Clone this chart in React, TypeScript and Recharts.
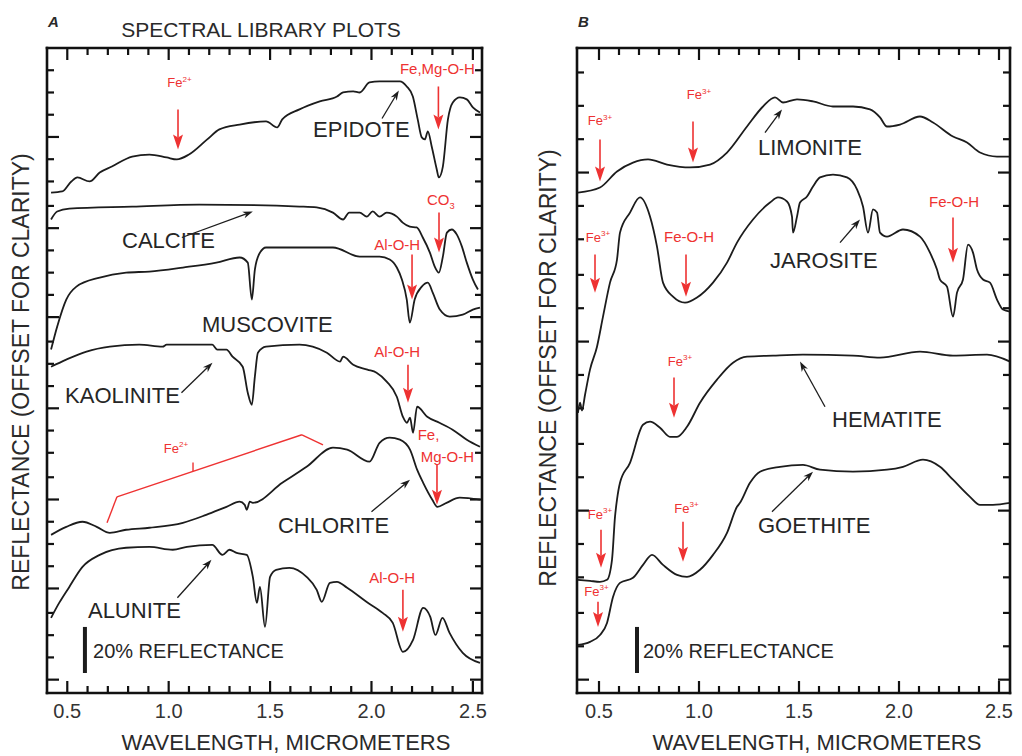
import React from 'react';
import { LineChart, Line, XAxis, YAxis, ReferenceLine, ReferenceDot } from 'recharts';

const FONT = '"Liberation Sans", Arial, Helvetica, sans-serif';
const INK = '#1c1c1c';
const RED = '#ee3232';
const FRAME = '#111';

type Pt = [number, number];

// wavelength (micrometers), reflectance in % (offset for clarity)
const epidote: Pt[] = [[0.42,225],[0.475,225.5],[0.52,230],[0.55,231.8],[0.61,230],[0.66,234],[0.72,236.7],[0.82,241.2],[0.905,242.1],[0.99,240.8],[1.04,239.9],[1.1,242.1],[1.19,248.9],[1.25,253.4],[1.35,255.6],[1.48,257],[1.535,254.3],[1.56,257.9],[1.645,262.4],[1.745,266],[1.83,268.2],[1.86,270],[1.91,270.5],[1.942,270],[1.99,274.5],[2.04,275],[2.14,275],[2.174,272.7],[2.204,268.2],[2.228,257.9],[2.248,249.8],[2.263,248.9],[2.278,252.5],[2.297,245.7],[2.322,235.4],[2.332,231.8],[2.352,236.7],[2.377,257.9],[2.401,265.5],[2.436,267.8],[2.47,266.9],[2.5,263.3],[2.535,261]];
const calcite: Pt[] = [[0.42,212.9],[0.45,216.5],[0.51,217.8],[0.82,218.7],[1.15,219.6],[1.645,218.7],[1.73,218.3],[1.81,216],[1.86,212.9],[1.89,216],[1.942,216],[1.977,214.2],[2.006,216.5],[2.04,214.2],[2.075,216],[2.125,214.2],[2.154,211.5],[2.189,209.7],[2.223,209.3],[2.253,204.8],[2.288,198],[2.312,191.7],[2.332,189],[2.352,196.2],[2.372,207],[2.396,208.4],[2.421,206.1],[2.446,200.7],[2.47,193.5],[2.5,185.9],[2.525,181.4]];
const muscovite: Pt[] = [[0.42,154.4],[0.45,164.7],[0.495,176.9],[0.545,182.7],[0.66,186.8],[0.79,189],[0.905,189.5],[1.07,191.3],[1.235,193.5],[1.35,195.8],[1.39,193.5],[1.41,176.9],[1.425,190.4],[1.45,198],[1.48,200.3],[1.81,200.3],[1.942,196.2],[2.04,196.2],[2.09,194.9],[2.125,191.3],[2.15,185.9],[2.174,176.9],[2.189,166.5],[2.213,176.9],[2.248,182.7],[2.278,184.5],[2.302,180],[2.337,172.4],[2.386,169.2],[2.45,170.1],[2.5,172.4],[2.535,173.3]];
const kaolinite: Pt[] = [[0.42,146.7],[0.495,149.9],[0.595,153.5],[0.71,155.7],[0.855,156.6],[0.97,155.7],[0.99,156.6],[1.215,156.6],[1.24,154.4],[1.285,154.4],[1.315,151.2],[1.365,146.7],[1.39,135],[1.41,129.6],[1.425,142.2],[1.44,153],[1.48,155.7],[1.645,156.6],[1.71,155.7],[1.78,153],[1.845,149],[1.86,151.2],[1.91,147.6],[1.98,145.4],[2.025,144],[2.075,140],[2.125,133.2],[2.155,124.2],[2.175,121.5],[2.19,123.8],[2.205,117],[2.225,128.7],[2.275,124.2],[2.335,121.5],[2.4,118.4],[2.47,113.9],[2.535,110.7]];
const chlorite: Pt[] = [[0.42,71.1],[0.495,74.7],[0.575,77],[0.645,74.7],[0.71,72],[0.79,73.4],[0.905,74.3],[1.07,76.5],[1.185,80.1],[1.285,83.7],[1.35,86],[1.375,84.6],[1.385,82.4],[1.4,86],[1.415,85.5],[1.56,94.5],[1.68,101.7],[1.81,110.3],[1.88,109.4],[1.99,104],[2.04,112.5],[2.09,114.8],[2.14,113.9],[2.19,109.4],[2.225,100.4],[2.255,94.5],[2.3,86.9],[2.325,83.7],[2.37,85.5],[2.435,87.8],[2.535,86.9]];
const alunite: Pt[] = [[0.42,33.8],[0.46,40.5],[0.51,47.7],[0.575,56.7],[0.66,62.1],[0.79,65.3],[0.905,65.7],[1.02,64.4],[1.09,65.7],[1.215,66.6],[1.265,62.1],[1.3,64.4],[1.335,63],[1.385,62.1],[1.415,52.2],[1.435,40.5],[1.45,47.7],[1.475,29.7],[1.5,52.2],[1.53,55.4],[1.595,56.3],[1.68,52.2],[1.73,46.4],[1.755,41],[1.795,49.5],[1.83,50],[1.88,47.3],[1.975,41],[2.055,36],[2.105,31.5],[2.155,18.5],[2.205,23.9],[2.255,38.3],[2.29,34.2],[2.315,26.1],[2.35,33.8],[2.385,27],[2.45,18],[2.535,13.5]];

const limonite: Pt[] = [[0.395,225],[0.505,227.3],[0.59,234.5],[0.67,238.5],[0.745,239.9],[0.84,237.6],[0.955,236.3],[1.055,237.6],[1.14,243],[1.24,254.7],[1.32,263.7],[1.38,267.8],[1.42,265.5],[1.49,266.9],[1.57,266],[1.67,263.7],[1.77,263.7],[1.855,262.4],[1.905,258.8],[1.94,254.7],[2.005,255.6],[2.105,259.2],[2.17,256.5],[2.27,250.2],[2.34,247.5],[2.405,243],[2.49,241.2],[2.555,241.2]];
const jarosite: Pt[] = [[0.395,126],[0.405,130.5],[0.415,127],[0.43,134],[0.455,145.4],[0.49,155.7],[0.52,169.2],[0.555,184.5],[0.59,194.9],[0.605,207],[0.655,216],[0.705,222.8],[0.755,214.2],[0.79,200.7],[0.82,184.5],[0.87,178.2],[0.93,175.5],[0.99,177.8],[1.07,184.5],[1.14,193.5],[1.19,202.5],[1.27,212.9],[1.355,220.5],[1.395,222.8],[1.44,221],[1.465,214.2],[1.47,207],[1.49,214.2],[1.505,220.5],[1.54,223.2],[1.57,227.7],[1.605,231.8],[1.67,233.1],[1.74,231.8],[1.79,226.4],[1.82,218.7],[1.845,207],[1.87,217.4],[1.89,216],[1.905,207],[1.94,205.2],[2.02,208.4],[2.105,205.2],[2.155,198],[2.19,190.4],[2.205,185.9],[2.24,182.7],[2.27,169.2],[2.29,180],[2.32,185.9],[2.345,201.6],[2.37,198],[2.39,190.4],[2.42,185.9],[2.455,184.5],[2.49,176.9],[2.52,172.4],[2.555,171.5]];
const hematite: Pt[] = [[0.395,50.9],[0.455,50.4],[0.505,50],[0.54,50.9],[0.565,59.9],[0.58,79.2],[0.59,86.9],[0.605,94.5],[0.655,103.5],[0.72,120.6],[0.755,122],[0.805,119.3],[0.855,115.2],[0.89,115.2],[0.94,119.7],[1.005,130.5],[1.09,140.9],[1.17,148.5],[1.24,151.2],[1.37,151.7],[1.52,152.1],[1.77,151.7],[1.905,150.8],[2.105,153.5],[2.27,151.7],[2.44,152.1],[2.555,149]];
const goethite: Pt[] = [[0.395,21.6],[0.455,23],[0.505,26.1],[0.54,31.5],[0.57,43.2],[0.605,49.5],[0.67,51.8],[0.72,57.6],[0.765,62.1],[0.82,57.6],[0.89,53.1],[0.94,52.2],[1.005,55.4],[1.07,62.1],[1.14,72],[1.19,83.7],[1.205,85.5],[1.255,94.5],[1.305,99.5],[1.405,101.7],[1.52,102.6],[1.605,100.4],[1.77,99.5],[1.94,100.4],[2.02,101.7],[2.12,104.9],[2.205,101.7],[2.27,95.9],[2.355,88.2],[2.405,84.6],[2.47,84.6],[2.555,85.5]];

const xTicks = [0.5,0.6,0.7,0.8,0.9,1.0,1.1,1.2,1.3,1.4,1.5,1.6,1.7,1.8,1.9,2.0,2.1,2.2,2.3,2.4,2.5];
const xMajor = [0.5, 1.0, 1.5, 2.0, 2.5];
const yTicksA = [6,16,26,36,47,57,67,77,87,97,108,118,128,138,148,158,169,179,189,199,209,219,230,240,250,260,270,280];
const yMajorA = [6,47,87,128,169,209,250];
const yTicksB = [6,21,36,52,67,82,97,112,128,143,158,173,188,204,219,234,249,264,279];
const yMajorB = [6,82,158,234];
const Y_DOMAIN: [number, number] = [0, 290];

type Note = { w: number; r: number; text: string; kind: 'name' | 'scale' | 'red' | 'ion' | 'redStart'; sup?: string; sub?: string };
type Arrow = { w1: number; r1: number; w2: number; r2: number; kind: 'red' | 'black' };
type Seg = { w1: number; r1: number; w2: number; r2: number };

const notesA: Note[] = [
  { w: 1.712, r: 250.2, text: 'EPIDOTE', kind: 'name' },
  { w: 0.77, r: 200.3, text: 'CALCITE', kind: 'name' },
  { w: 1.164, r: 162.5, text: 'MUSCOVITE', kind: 'name' },
  { w: 0.489, r: 130.5, text: 'KAOLINITE', kind: 'name' },
  { w: 1.539, r: 72, text: 'CHLORITE', kind: 'name' },
  { w: 0.602, r: 33.8, text: 'ALUNITE', kind: 'name' },
  { w: 0.627, r: 15.8, text: '20% REFLECTANCE', kind: 'scale' },
  { w: 1.053, r: 272.3, text: 'Fe', sup: '2+', kind: 'ion' },
  { w: 2.325, r: 278.1, text: 'Fe,Mg-O-H', kind: 'red' },
  { w: 2.342, r: 219.6, text: 'CO', sub: '3', kind: 'red' },
  { w: 2.127, r: 199.4, text: 'Al-O-H', kind: 'red' },
  { w: 2.127, r: 151.2, text: 'Al-O-H', kind: 'red' },
  { w: 2.228, r: 113.9, text: 'Fe,', kind: 'redStart' },
  { w: 2.374, r: 104, text: 'Mg-O-H', kind: 'red' },
  { w: 1.036, r: 108, text: 'Fe', sup: '2+', kind: 'ion' },
  { w: 2.102, r: 49.5, text: 'Al-O-H', kind: 'red' },
];
const arrowsA: Arrow[] = [
  { w1: 2.052, r1: 258.3, w2: 2.135, r2: 270.9, kind: 'black' },
  { w1: 1.065, r1: 204.8, w2: 1.415, r2: 216.5, kind: 'black' },
  { w1: 1.063, r1: 135, w2: 1.216, r2: 148.5, kind: 'black' },
  { w1: 2.0, r1: 81.5, w2: 2.19, r2: 95.9, kind: 'black' },
  { w1: 1.043, r1: 42.8, w2: 1.211, r2: 59.9, kind: 'black' },
  { w1: 1.046, r1: 262.4, w2: 1.046, r2: 244.4, kind: 'red' },
  { w1: 2.33, r1: 272.7, w2: 2.33, r2: 253.4, kind: 'red' },
  { w1: 2.333, r1: 216, w2: 2.333, r2: 198, kind: 'red' },
  { w1: 2.2, r1: 197.1, w2: 2.2, r2: 176.9, kind: 'red' },
  { w1: 2.18, r1: 147.6, w2: 2.18, r2: 130.5, kind: 'red' },
  { w1: 2.323, r1: 102.6, w2: 2.323, r2: 84.6, kind: 'red' },
  { w1: 2.155, r1: 46.4, w2: 2.155, r2: 27.5, kind: 'red' },
];
const bracketA: Seg[] = [
  { w1: 0.696, r1: 76.5, w2: 0.745, r2: 88.2 },
  { w1: 0.745, r1: 88.2, w2: 1.657, r2: 116.1 },
  { w1: 1.657, r1: 116.1, w2: 1.761, r2: 111.6 },
  { w1: 1.12, r1: 99.8, w2: 1.12, r2: 103.6 },
];
const scaleA: Seg = { w1: 0.587, r1: 9, w2: 0.587, r2: 29.7 };

const notesB: Note[] = [
  { w: 1.295, r: 242.1, text: 'LIMONITE', kind: 'name' },
  { w: 1.355, r: 191.3, text: 'JAROSITE', kind: 'name' },
  { w: 1.665, r: 119.7, text: 'HEMATITE', kind: 'name' },
  { w: 1.295, r: 72, text: 'GOETHITE', kind: 'name' },
  { w: 0.72, r: 15.8, text: '20% REFLECTANCE', kind: 'scale' },
  { w: 0.505, r: 255.2, text: 'Fe', sup: '3+', kind: 'ion' },
  { w: 1.0, r: 266.9, text: 'Fe', sup: '3+', kind: 'ion' },
  { w: 0.495, r: 203, text: 'Fe', sup: '3+', kind: 'ion' },
  { w: 0.95, r: 203, text: 'Fe-O-H', kind: 'red' },
  { w: 2.275, r: 218.3, text: 'Fe-O-H', kind: 'red' },
  { w: 0.905, r: 147.2, text: 'Fe', sup: '3+', kind: 'ion' },
  { w: 0.505, r: 78.3, text: 'Fe', sup: '3+', kind: 'ion' },
  { w: 0.9375, r: 81, text: 'Fe', sup: '3+', kind: 'ion' },
  { w: 0.4875, r: 43.7, text: 'Fe', sup: '3+', kind: 'ion' },
];
const arrowsB: Arrow[] = [
  { w1: 1.33, r1: 252, w2: 1.415, r2: 262.4, kind: 'black' },
  { w1: 1.705, r1: 202.5, w2: 1.805, r2: 212.9, kind: 'black' },
  { w1: 1.63, r1: 128.7, w2: 1.505, r2: 149, kind: 'black' },
  { w1: 1.365, r1: 81.5, w2: 1.57, r2: 99.5, kind: 'black' },
  { w1: 0.505, r1: 248.9, w2: 0.505, r2: 230, kind: 'red' },
  { w1: 0.97, r1: 257, w2: 0.97, r2: 238.5, kind: 'red' },
  { w1: 0.48, r1: 197.1, w2: 0.48, r2: 180, kind: 'red' },
  { w1: 0.935, r1: 197.1, w2: 0.935, r2: 178.2, kind: 'red' },
  { w1: 2.27, r1: 213.8, w2: 2.27, r2: 193.5, kind: 'red' },
  { w1: 0.875, r1: 141.8, w2: 0.875, r2: 123.8, kind: 'red' },
  { w1: 0.51, r1: 73.4, w2: 0.51, r2: 56.3, kind: 'red' },
  { w1: 0.92, r1: 77, w2: 0.92, r2: 59, kind: 'red' },
  { w1: 0.495, r1: 41, w2: 0.495, r2: 29.7, kind: 'red' },
];
const scaleB: Seg = { w1: 0.69, r1: 9, w2: 0.69, r2: 29.7 };

const toRows = (pts: Pt[]) => pts.map(([w, r]) => ({ w, r }));
const near = (list: number[], v: number) => list.some((m) => Math.abs(m - v) < 1e-6);

const xTickLabel = (p: any) => {
  const v = p.payload.value;
  if (!near(xMajor, v)) return <g />;
  return (
    <text x={p.x} y={p.y + 25} textAnchor="middle" fontSize={20} fontFamily={FONT} fill="#333">
      {v.toFixed(1)}
    </text>
  );
};

// a tick mark hanging inward from one end of a reference line that spans the plot
const tickAt = (end: 'start' | 'end', major: boolean) => (p: any) => {
  const len = major ? 12 : 7;
  const x1 = Number(p.x1), x2 = Number(p.x2), y1 = Number(p.y1), y2 = Number(p.y2);
  const vertical = Math.abs(x1 - x2) < 0.5;
  if (vertical) {
    const yEdge = end === 'start' ? Math.min(y1, y2) : Math.max(y1, y2);
    const dir = end === 'start' ? 1 : -1;
    return <path d={`M${x1},${yEdge}V${yEdge + dir * len}`} stroke={FRAME} strokeWidth={2.2} fill="none" />;
  }
  const xEdge = end === 'start' ? Math.min(x1, x2) : Math.max(x1, x2);
  const dir = end === 'start' ? 1 : -1;
  return <path d={`M${xEdge},${y1}H${xEdge + dir * len}`} stroke={FRAME} strokeWidth={2.2} fill="none" />;
};

const edge = (p: any) => (
  <path d={`M${Number(p.x1)},${Number(p.y1)}L${Number(p.x2)},${Number(p.y2)}`} stroke={FRAME} strokeWidth={2.6} strokeLinecap="square" fill="none" />
);

const noteShape = (n: Note) => (p: any) => {
  const isName = n.kind === 'name' || n.kind === 'scale';
  const size = n.kind === 'name' ? 22 : n.kind === 'scale' ? 20 : n.kind === 'ion' ? 13 : 15;
  const anchor = isName || n.kind === 'redStart' ? 'start' : 'middle';
  return (
    <text x={p.cx} y={p.cy} textAnchor={anchor} fontSize={size} fontFamily={FONT} fill={isName ? '#262626' : RED}>
      {n.text}
      {n.sup && <tspan dy={-size * 0.42} fontSize={size * 0.62}>{n.sup}</tspan>}
      {n.sub && <tspan dy={size * 0.28} fontSize={size * 0.62}>{n.sub}</tspan>}
    </text>
  );
};

const arrowShape = (kind: 'red' | 'black') => (p: any) => {
  const x1 = Number(p.x1), y1 = Number(p.y1), x2 = Number(p.x2), y2 = Number(p.y2);
  const red = kind === 'red';
  const hl = red ? 15 : 10;
  const hw = red ? 10 : 7;
  const color = red ? RED : INK;
  const dx = x2 - x1;
  const dy = y2 - y1;
  const len = Math.hypot(dx, dy) || 1;
  const ux = dx / len;
  const uy = dy / len;
  const bx = x2 - ux * hl;
  const by = y2 - uy * hl;
  const nx = (-uy * hw) / 2;
  const ny = (ux * hw) / 2;
  return (
    <g>
      <line x1={x1} y1={y1} x2={bx + ux * 3} y2={by + uy * 3} stroke={color} strokeWidth={red ? 1.6 : 1.3} />
      <polygon points={`${x2},${y2} ${bx + nx},${by + ny} ${bx + ux * 3},${by + uy * 3} ${bx - nx},${by - ny}`} fill={color} />
    </g>
  );
};

type PanelProps = {
  series: Pt[][];
  notes: Note[];
  arrows: Arrow[];
  bracket: Seg[];
  scale: Seg;
  xDomain: [number, number];
  yTicks: number[];
  yMajor: number[];
  width: number;
  axisWidth: number;
  rightMargin: number;
};

function Panel(props: PanelProps) {
  const { series, notes, arrows, bracket, scale, xDomain, yTicks, yMajor, width, axisWidth, rightMargin } = props;
  const [x0, x1] = xDomain;
  const [y0, y1] = Y_DOMAIN;
  const plotW = width - rightMargin - axisWidth;
  return (
    <div style={{ position: 'relative', width, height: 756 }}>
      <LineChart width={width} height={756} margin={{ top: 48, right: rightMargin, bottom: 0, left: 0 }}>
        <XAxis dataKey="w" type="number" domain={xDomain} allowDataOverflow ticks={xTicks} interval={0} height={63}
          tickSize={0} tickMargin={0} tickLine={false} axisLine={false} tick={xTickLabel} />
        <YAxis type="number" domain={Y_DOMAIN} allowDataOverflow width={axisWidth} tick={false} tickLine={false} axisLine={false} />
        {xTicks.map((t) => (
          <ReferenceLine key={'xb' + t} segment={[{ x: t, y: y0 }, { x: t, y: y1 }]} ifOverflow="visible" shape={tickAt('end', near(xMajor, t))} />
        ))}
        {xTicks.map((t) => (
          <ReferenceLine key={'xt' + t} segment={[{ x: t, y: y0 }, { x: t, y: y1 }]} ifOverflow="visible" shape={tickAt('start', near(xMajor, t))} />
        ))}
        {yTicks.map((t) => (
          <ReferenceLine key={'yl' + t} segment={[{ x: x0, y: t }, { x: x1, y: t }]} ifOverflow="visible" shape={tickAt('start', near(yMajor, t))} />
        ))}
        {yTicks.map((t) => (
          <ReferenceLine key={'yr' + t} segment={[{ x: x0, y: t }, { x: x1, y: t }]} ifOverflow="visible" shape={tickAt('end', near(yMajor, t))} />
        ))}
        <ReferenceLine segment={[{ x: x0, y: y0 }, { x: x1, y: y0 }]} ifOverflow="visible" shape={edge} />
        <ReferenceLine segment={[{ x: x0, y: y1 }, { x: x1, y: y1 }]} ifOverflow="visible" shape={edge} />
        <ReferenceLine segment={[{ x: x0, y: y0 }, { x: x0, y: y1 }]} ifOverflow="visible" shape={edge} />
        <ReferenceLine segment={[{ x: x1, y: y0 }, { x: x1, y: y1 }]} ifOverflow="visible" shape={edge} />
        {series.map((s, i) => (
          <Line key={i} data={toRows(s)} dataKey="r" type="monotone" stroke={INK} strokeWidth={1.8} dot={false} isAnimationActive={false} />
        ))}
        {bracket.map((s, i) => (
          <ReferenceLine key={'b' + i} segment={[{ x: s.w1, y: s.r1 }, { x: s.w2, y: s.r2 }]} stroke={RED} strokeWidth={1.4} ifOverflow="visible" />
        ))}
        <ReferenceLine segment={[{ x: scale.w1, y: scale.r1 }, { x: scale.w2, y: scale.r2 }]} stroke={INK} strokeWidth={4} ifOverflow="visible" />
        {arrows.map((a, i) => (
          <ReferenceLine key={'a' + i} segment={[{ x: a.w1, y: a.r1 }, { x: a.w2, y: a.r2 }]} ifOverflow="visible" shape={arrowShape(a.kind)} />
        ))}
        {notes.map((n, i) => (
          <ReferenceDot key={'n' + i} x={n.w} y={n.r} r={1} ifOverflow="visible" shape={noteShape(n)} />
        ))}
      </LineChart>
      {/* plot border on the same box as the chart's plotting area */}
      <div style={{ position: 'absolute', left: axisWidth - 1.3, top: 48 - 1.3, width: plotW + 2.6, height: 645 + 2.6, boxSizing: 'border-box', border: `2.6px solid ${FRAME}`, pointerEvents: 'none' }} />
    </div>
  );
}

export default function App() {
  const title = { fontFamily: FONT, fill: '#2a2a2a' };
  return (
    <div style={{ position: 'absolute', left: 0, top: 0, width: 1022, height: 756, background: '#fff', overflow: 'hidden' }}>
      <div style={{ position: 'absolute', left: 0, top: 0 }}>
        <Panel series={[epidote, calcite, muscovite, kaolinite, chlorite, alunite]} notes={notesA} arrows={arrowsA}
          bracket={bracketA} scale={scaleA} xDomain={[0.4, 2.545]} yTicks={yTicksA} yMajor={yMajorA}
          width={500} axisWidth={47} rightMargin={18} />
      </div>
      <div style={{ position: 'absolute', left: 520, top: 0 }}>
        <Panel series={[limonite, jarosite, hematite, goethite]} notes={notesB} arrows={arrowsB}
          bracket={[]} scale={scaleB} xDomain={[0.39, 2.555]} yTicks={yTicksB} yMajor={yMajorB}
          width={502} axisWidth={57} rightMargin={12} />
      </div>
      <svg width={1022} height={756} style={{ position: 'absolute', left: 0, top: 0, pointerEvents: 'none' }}>
        <text x={48} y={27} fontSize={15} fontWeight="bold" fontStyle="italic" {...title}>A</text>
        <text x={578} y={27} fontSize={15} fontWeight="bold" fontStyle="italic" {...title}>B</text>
        <text x={261} y={37} fontSize={21} textAnchor="middle" {...title}>SPECTRAL LIBRARY PLOTS</text>
        <text x={286} y={750} fontSize={22} textAnchor="middle" {...title}>WAVELENGTH, MICROMETERS</text>
        <text x={817} y={750} fontSize={22} textAnchor="middle" {...title}>WAVELENGTH, MICROMETERS</text>
        <text x={29} y={372} fontSize={23} textAnchor="middle" transform="rotate(-90 29 372)" {...title}>
          REFLECTANCE (OFFSET FOR CLARITY)
        </text>
        <text x={556} y={368} fontSize={23} textAnchor="middle" transform="rotate(-90 556 368)" {...title}>
          REFLECTANCE (OFFSET FOR CLARITY)
        </text>
      </svg>
    </div>
  );
}
